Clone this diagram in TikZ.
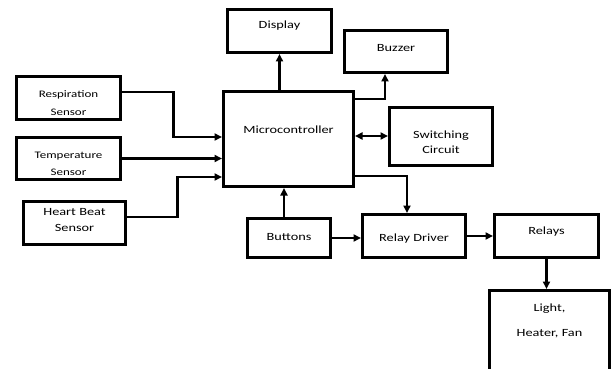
\documentclass[tikz,border=0pt]{standalone}
\usepackage{fontspec}
\setmainfont{Carlito}[FakeStretch=1.3]
\usetikzlibrary{arrows.meta, positioning, calc}

\begin{document}
\begin{tikzpicture}[
  x=1pt, y=-1pt,
  blk/.style={
    rectangle, draw=black, line width=3pt,
    minimum width=104pt, minimum height=43pt, inner sep=0pt
  },
  txt/.style={font=\fontsize{11}{13.2}\selectfont, text=black, align=center},
  sml/.style={font=\fontsize{10}{12}\selectfont},
  arr/.style={-{Triangle[length=7.5pt,width=7pt]}, line width=2.6pt},
  darr/.style={{Triangle[length=7.5pt,width=7pt]}-{Triangle[length=7.5pt,width=7pt]}, line width=2.6pt}
]
  \clip (0,0) rectangle (614,369);

  % sensors
  \node[blk, label={[txt, sml, yshift=-4.5pt]center:Respiration\\[6pt]Sensor}] (resp) at (68.5,98.5) {};
  \node[blk, minimum height=42pt, label={[txt, sml, yshift=-5pt]center:Temperature\\[5pt]Sensor}] (temp) at (68.5,158.5) {};
  \node[blk, minimum width=102pt, label={[txt, yshift=3pt]center:Heart Beat\\[3pt]Sensor}] (heart) at (74.5,223) {};

  % controller and outputs
  \node[blk, minimum width=130pt, minimum height=95pt, label={[txt, yshift=9pt]center:Microcontroller}] (micro) at (288.5,139) {};
  \node[blk, label={[txt, yshift=5pt]center:Display}] (display) at (279.5,31) {};
  \node[blk, minimum width=103pt, minimum height=42pt, label={[txt, yshift=3.5pt]center:Buzzer}] (buzzer) at (396,51.5) {};
  \node[blk, minimum width=103pt, minimum height=58pt, label={[txt, yshift=-6pt]center:Switching\\[2pt]Circuit}] (switch) at (441,136.5) {};

  \node[blk, minimum width=83pt, minimum height=39pt, label={[txt, yshift=1pt]center:Buttons}] (buttons) at (289,238) {};
  \node[blk, minimum width=103pt, label={[txt, yshift=-3pt]center:Relay Driver}] (rdriver) at (414,236) {};
  \node[blk, label={[txt, yshift=4pt]center:Relays}] (relays) at (546.5,236) {};
  \node[blk, minimum width=120pt, minimum height=100pt, label={[txt, yshift=20pt]center:{Light,\\[12pt]Heater, Fan}}] (light) at (549.5,340.5) {};

  % connectors
  \draw[arr] ([yshift=6.5pt]resp.east) -- ++(51.5,0) |- ([yshift=2pt]micro.west);
  \draw[arr] (temp.east) -- (temp.east -| micro.west);
  \draw[arr] ([yshift=6pt]heart.east) -- ++(50.5,0) |- ([yshift=-38pt]micro.west);
  \draw[arr] (micro.north -| display.south) -- (display.south);
  \draw[arr] ([yshift=40pt]micro.east) -| ([xshift=-11pt]buzzer.south);
  \draw[darr] ([yshift=3pt]micro.east) -- ([yshift=3pt]micro.east -| switch.west);
  \draw[arr] ([yshift=-37pt]micro.east) -| ([xshift=-7pt]rdriver.north);
  \draw[arr] ([xshift=-5pt]buttons.north) -- ([xshift=-5pt]buttons.north |- micro.south);
  \draw[arr] (buttons.east) -- (buttons.east -| rdriver.west);
  \draw[arr] (rdriver.east) -- (relays.west);
  \draw[arr] (relays.south) -- (relays.south |- light.north);
\end{tikzpicture}
\end{document}
